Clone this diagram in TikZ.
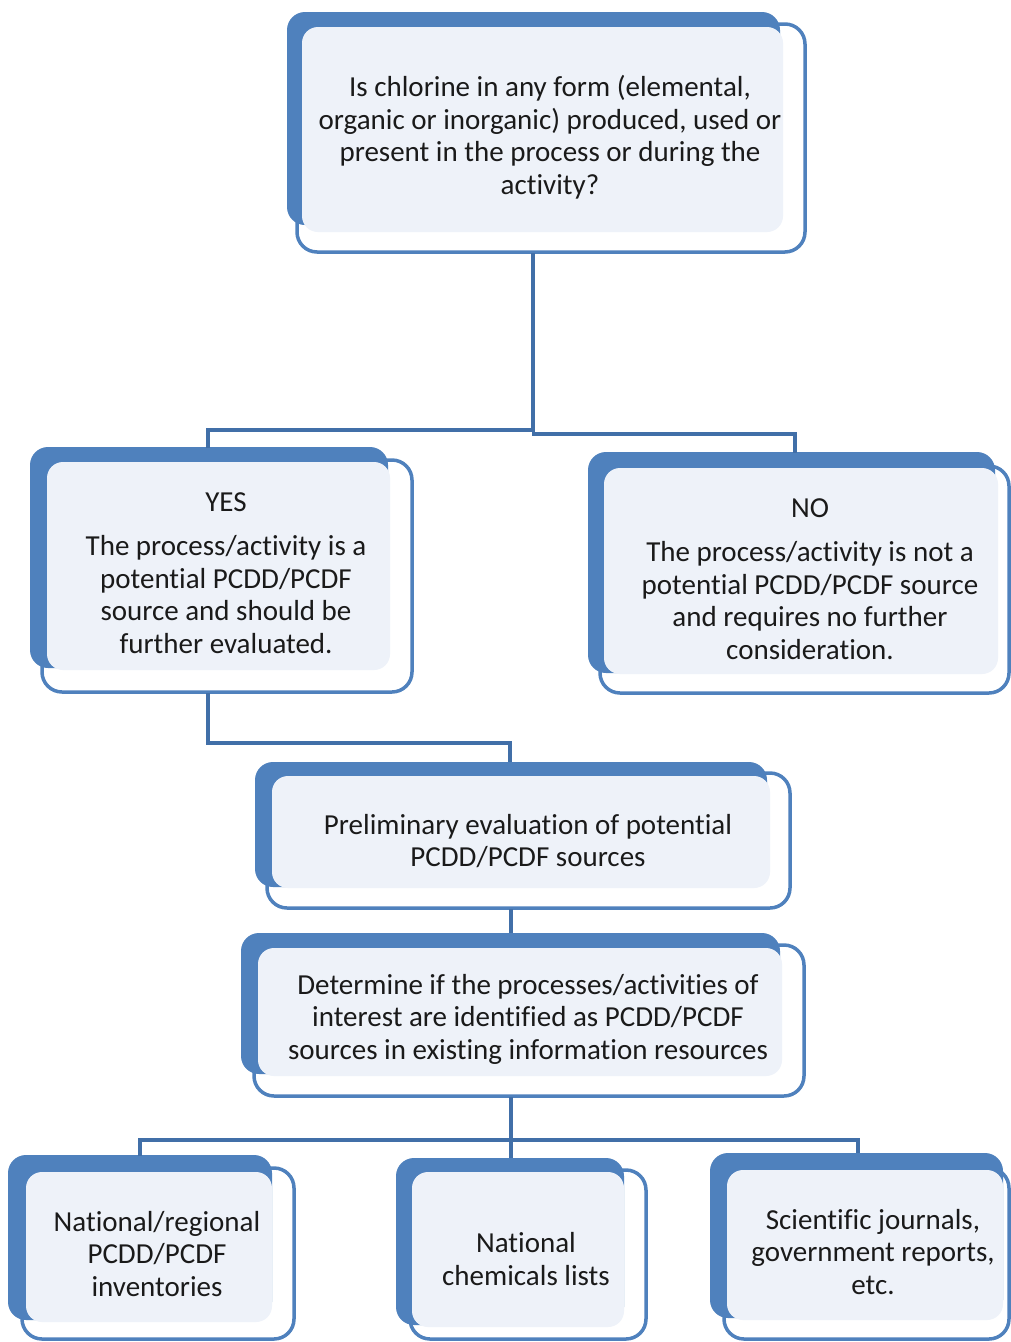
\documentclass[tikz,border=0pt]{standalone}
\usepackage{fontspec}
\setmainfont{Carlito}[Ligatures=NoCommon]
\definecolor{bfill}{HTML}{4F81BD}
\definecolor{lfill}{HTML}{EEF2F9}
\definecolor{conn}{HTML}{416FA8}
\definecolor{txt}{HTML}{1A1A1A}
\begin{document}
\begin{tikzpicture}[x=1pt,y=-1pt,
  backbox/.style={fill=bfill,rounded corners=18pt},
  outbox/.style={draw=bfill,line width=3.5pt,fill=white,rounded corners=20pt},
  litebox/.style={fill=lfill,rounded corners=16pt},
  label/.style={align=center,text=txt,font=\fontsize{29}{32.5}\selectfont,inner sep=0pt},
  link/.style={draw=conn,line width=4pt}]
\useasboundingbox (0,0) rectangle (1011,1342);
% --- Box 1: question
\draw[outbox] (297,24) rectangle (805,252);
\fill[backbox] (287,12) rectangle (780,225);
\fill[litebox] (302,27) rectangle (783,232);
\node[label] (q) at (550,137) {Is chlorine in any form (elemental,\\organic or inorganic) produced, used or\\present in the process or during the\\activity?};
% --- YES box
\draw[outbox] (42,460) rectangle (412,692);
\fill[backbox] (30,447) rectangle (388,668);
\fill[litebox] (47,462) rectangle (390,670);
\node[label] (yes) at (226,573) {YES\\[12pt]The process/activity is a\\potential PCDD/PCDF\\source and should be\\further evaluated.};
% --- NO box
\draw[outbox] (600,466) rectangle (1009,693);
\fill[backbox] (588,452) rectangle (995,673);
\fill[litebox] (604,468) rectangle (998,674);
\node[label] (no) at (810,579) {NO\\[12pt]The process/activity is not a\\potential PCDD/PCDF source\\and requires no further\\consideration.};
% --- Preliminary
\draw[outbox] (267,773) rectangle (790,908);
\fill[backbox] (255,762) rectangle (767,887);
\fill[litebox] (272,776) rectangle (770,888);
\node[label] (pre) at (528,841) {Preliminary evaluation of potential\\PCDD/PCDF sources};
% --- Determine
\draw[outbox] (254,945) rectangle (804,1096);
\fill[backbox] (241,933) rectangle (780,1074);
\fill[litebox] (258,948) rectangle (782,1076);
\node[label] (det) at (528,1019) {Determine if the processes/activities of\\interest are identified as PCDD/PCDF\\sources in existing information resources};
% --- Bottom boxes
\draw[outbox] (22,1168) rectangle (294,1339);
\fill[backbox] (8,1155) rectangle (272,1320);
\fill[litebox] (26,1172) rectangle (272,1322);
\node[label] (inv) at (157,1254) {National/regional\\PCDD/PCDF\\inventories};
\draw[outbox] (410,1170) rectangle (646,1339);
\fill[backbox] (396,1158) rectangle (624,1325);
\fill[litebox] (412,1172) rectangle (624,1327);
\node[label] (chem) at (526,1259) {National\\chemicals lists};
\draw[outbox] (724,1168) rectangle (1009,1339);
\fill[backbox] (710,1153) rectangle (1003,1318);
\fill[litebox] (727,1170) rectangle (1003,1320);
\node[label] (sci) at (873,1252) {Scientific journals,\\government reports,\\etc.};
% --- connector points
\coordinate (qb) at (533,253);
\coordinate (jq) at (533,432);
\coordinate (yt) at (208,448);
\coordinate (nt) at (795,453);
\coordinate (yb) at (208,693);
\coordinate (pt) at (510,762);
\coordinate (pb) at (511,909);
\coordinate (dt) at (511,933);
\coordinate (db) at (511,1097);
\coordinate (jd) at (511,1140);
\coordinate (it) at (140,1156);
\coordinate (ct) at (511,1158);
\coordinate (st) at (858,1153);
% --- connectors
\draw[link] (qb) -- (jq);
\draw[link] (yt) |- (533,430);
\draw[link] (532,434) -| (nt);
\draw[link] (yb) |- (510,743) -- (pt);
\draw[link] (pb) -- (dt);
\draw[link] (db) -- (ct);
\draw[link] (it) |- (jd) -| (st);
\end{tikzpicture}
\end{document}
